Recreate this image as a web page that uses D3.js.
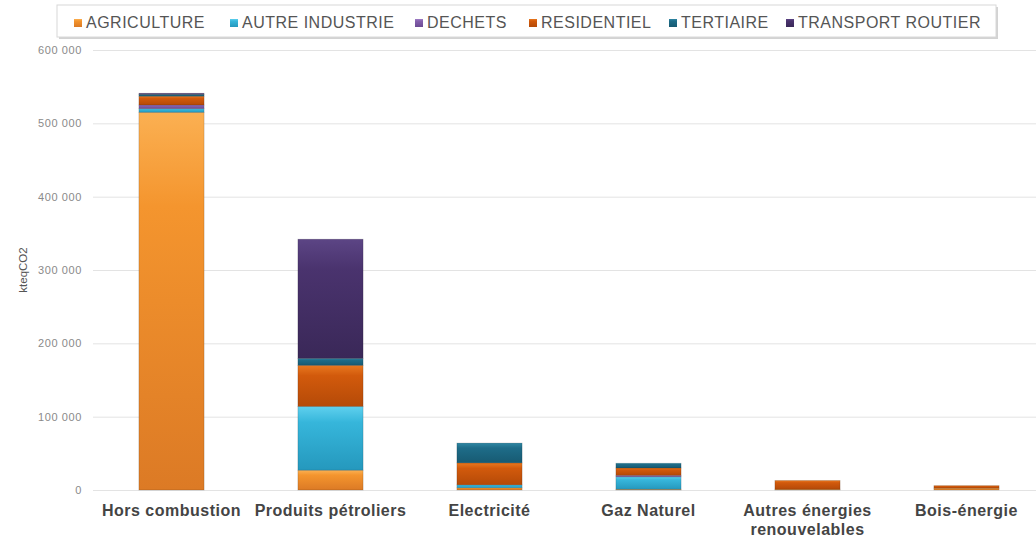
<!DOCTYPE html>
<html>
<head>
<meta charset="utf-8">
<script src="https://cdn.jsdelivr.net/npm/d3@7"></script>
<style>
  html, body { margin: 0; padding: 0; background: #ffffff; }
  svg { display: block; }
</style>
</head>
<body>
<svg id="chart" width="1036" height="538"></svg>
<script>
// ---- data ----
const categories = ["Hors combustion", "Produits pétroliers", "Electricité", "Gaz Naturel", "Autres énergies renouvelables", "Bois-énergie"];
const seriesNames = ["AGRICULTURE", "AUTRE INDUSTRIE", "DECHETS", "RESIDENTIEL", "TERTIAIRE", "TRANSPORT ROUTIER"];
const agriculture     = [515000, 27000,  3000,  1000,  1000, 2500];
const autreIndustrie  = [  5000, 87000,  4000, 17000,     0,    0];
const dechets         = [  5000,     0,     0,  2000,     0,    0];
const residentiel     = [ 12000, 56000, 30000, 10000, 12000, 3500];
const tertiaire       = [  2500,  9500, 27000,  6500,     0,    0];
const transportRoutier= [  1500,162500,     0,     0,     0,    0];
const yTicks = [0, 100000, 200000, 300000, 400000, 500000, 600000];
const yTitle = "kteqCO2";

const seriesValues = [agriculture, autreIndustrie, dechets, residentiel, tertiaire, transportRoutier];
const colors = ["#f4952e", "#36b6db", "#8560ad", "#d25a0c", "#1e6c88", "#4a336e"];
const colorsLight = ["#fbb052", "#5fd0ee", "#a07fc6", "#e8781f", "#2f87a4", "#5c4585"];
const colorsDark = ["#dc7a25", "#2598bd", "#6c4b93", "#b54a08", "#175a72", "#3a2858"];

const table = categories.map((c, i) => {
  const row = { cat: c };
  seriesNames.forEach((s, j) => row[s] = seriesValues[j][i]);
  return row;
});

const svg = d3.select("#chart");
const font = "'Liberation Sans', Arial, sans-serif";

const x = d3.scaleBand().domain(categories).range([92, 1046]).paddingInner(0.59).paddingOuter(0.295);
const y = d3.scaleLinear().domain([0, 600000]).range([490, 50]);

// gradients
const defs = svg.append("defs");
seriesNames.forEach((s, j) => {
  const g = defs.append("linearGradient").attr("id", "g" + j)
    .attr("x1", 0).attr("y1", 0).attr("x2", 0).attr("y2", 1);
  g.append("stop").attr("offset", "0%").attr("stop-color", colorsLight[j]);
  g.append("stop").attr("offset", "25%").attr("stop-color", colors[j]);
  g.append("stop").attr("offset", "100%").attr("stop-color", colorsDark[j]);
});
const fmt = v => d3.format(",")(v).replace(/,/g, " ");

// gridlines
svg.append("g").selectAll("line").data(yTicks).join("line")
  .attr("x1", 93).attr("x2", 1036)
  .attr("y1", d => y(d) + 0.5).attr("y2", d => y(d) + 0.5)
  .attr("stroke", "#e3e3e3").attr("stroke-width", 1);

// y axis labels
const yAxis = svg.append("g").attr("transform", "translate(86,0)")
  .call(d3.axisLeft(y).tickValues(yTicks).tickFormat(fmt).tickSize(0).tickPadding(4));
yAxis.select(".domain").remove();
yAxis.selectAll("text").attr("font-family", font).attr("font-size", 11)
  .attr("letter-spacing", 0.6).attr("fill", "#8a8a8a");

svg.append("text")
  .attr("transform", "translate(27,270) rotate(-90)")
  .attr("text-anchor", "middle")
  .attr("font-family", font).attr("font-size", 11.5).attr("fill", "#555")
  .text(yTitle);

// stacked bars
const stack = d3.stack().keys(seriesNames)(table);
svg.append("g").selectAll("g").data(stack).join("g")
  .attr("fill", (d, j) => `url(#g${j})`)
  .selectAll("rect").data(d => d).join("rect")
  .filter(d => d[1] - d[0] > 0)
  .attr("x", d => x(d.data.cat))
  .attr("width", x.bandwidth())
  .attr("y", d => y(d[1]))
  .attr("height", d => y(d[0]) - y(d[1]))
  .attr("stroke", "rgba(0,0,0,0.18)").attr("stroke-width", 0.8);

// x labels
const xl = svg.append("g");
categories.forEach(c => {
  const cx = x(c) + x.bandwidth() / 2;
  const t = xl.append("text").attr("x", cx).attr("y", 516)
    .attr("text-anchor", "middle").attr("font-family", font)
    .attr("font-size", 16).attr("letter-spacing", 0.5)
    .attr("font-weight", "bold").attr("fill", "#444");
  if (c === "Autres énergies renouvelables") {
    t.append("tspan").attr("x", cx).attr("dy", 0).text("Autres énergies");
    t.append("tspan").attr("x", cx).attr("dy", 19).text("renouvelables");
  } else {
    t.text(c);
  }
});

// legend
const lg = svg.append("g");
lg.append("rect").attr("x", 59).attr("y", 7).attr("width", 939).attr("height", 32)
  .attr("fill", "#b5b5b5").attr("opacity", 0.6);
lg.append("rect").attr("x", 57).attr("y", 5).attr("width", 939).attr("height", 32)
  .attr("fill", "#fff").attr("stroke", "#d8d8d8");
const legendX = [74, 230, 415, 529, 669, 786];
seriesNames.forEach((s, j) => {
  lg.append("rect").attr("x", legendX[j]).attr("y", 19).attr("width", 8).attr("height", 8)
    .attr("fill", `url(#g${j})`);
  lg.append("text").attr("x", legendX[j] + 12).attr("y", 28)
    .attr("font-family", font).attr("font-size", 16).attr("letter-spacing", 0.5)
    .attr("fill", "#555")
    .text(s);
});
</script>
</body>
</html>
